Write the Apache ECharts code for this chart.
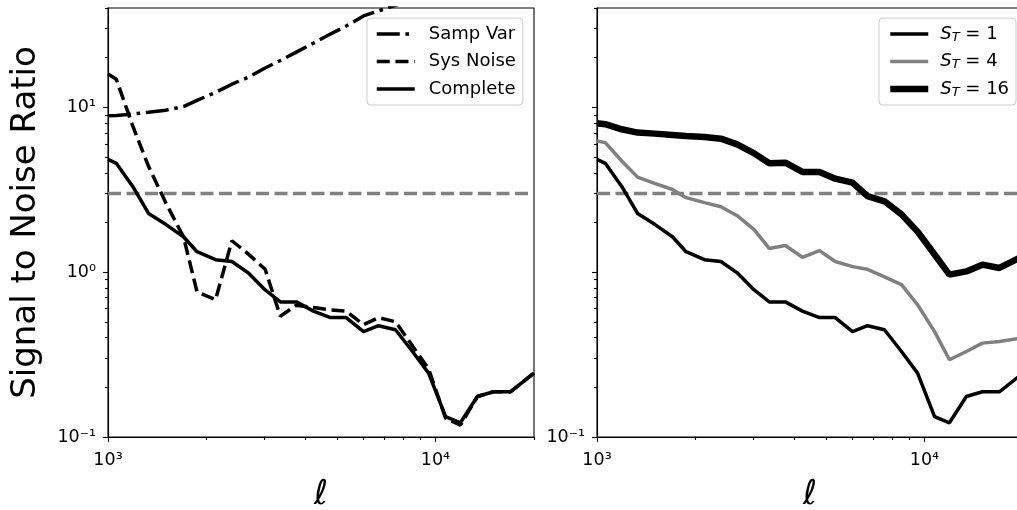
<!DOCTYPE html>
<html>
<head>
<meta charset="utf-8">
<script src="https://cdn.jsdelivr.net/npm/echarts@6/dist/echarts.min.js"></script>
<style>
html, body { margin: 0; padding: 0; background: #fff; overflow: hidden; }
#chart { width: 1017px; height: 510px; }
</style>
</head>
<body>
<div id="chart"></div>
<script>
// multipole bins shared by every curve
const ell = [1000, 1060, 1190, 1330, 1500, 1700, 1870, 2130, 2390, 2680, 3020, 3360, 3760, 4240,
  4780, 5340, 6030, 6700, 7550, 8510, 9530, 10740, 11920, 13430, 15030, 16940, 20000];

// left panel
const sampVar = [8.88, 8.9, 9.1, 9.33, 9.6, 10.1, 11.0, 12.3, 13.8, 15.2, 17.3, 19.2, 21.6, 24.5,
  27.8, 31.1, 35.8, 38.4, 41.5, 45];
const sysNoise = [15.9, 14.8, 7.7, 4.38, 2.64, 1.64, 0.76, 0.68, 1.55, 1.29, 1.04, 0.54, 0.63, 0.61,
  0.59, 0.58, 0.48, 0.53, 0.50, 0.357, 0.259, 0.13, 0.118, 0.176, 0.188, 0.188, 0.244];
const complete = [4.83, 4.57, 3.31, 2.27, 1.95, 1.64, 1.33, 1.19, 1.16, 0.99, 0.78, 0.66, 0.66, 0.58,
  0.53, 0.53, 0.436, 0.473, 0.447, 0.330, 0.244, 0.133, 0.122, 0.176, 0.188, 0.188, 0.244];

// right panel
const snrST1 = [4.83, 4.57, 3.31, 2.27, 1.95, 1.64, 1.33, 1.19, 1.16, 0.99, 0.78, 0.66, 0.66, 0.58,
  0.53, 0.53, 0.436, 0.473, 0.447, 0.330, 0.244, 0.133, 0.122, 0.176, 0.188, 0.188, 0.244];
const snrST4 = [6.24, 6.10, 4.72, 3.77, 3.45, 3.17, 2.83, 2.64, 2.49, 2.20, 1.81, 1.39, 1.45, 1.23,
  1.35, 1.16, 1.08, 1.04, 0.935, 0.84, 0.634, 0.436, 0.294, 0.330, 0.371, 0.380, 0.40];
const snrST16 = [8.0, 7.89, 7.35, 7.02, 6.92, 6.79, 6.69, 6.60, 6.45, 5.96, 5.25, 4.57, 4.61, 4.05,
  4.05, 3.69, 3.49, 2.89, 2.69, 2.24, 1.76, 1.28, 0.966, 1.01, 1.11, 1.06, 1.25];

const threshold = 3;

// axis ranges and ticks
const xRange = [1000, 20000];
const yRange = [0.1, 40];
const xMajor = [1000, 10000];
const xMinor = [2000, 3000, 4000, 5000, 6000, 7000, 8000, 9000, 20000];
const yMajor = [0.1, 1, 10];
const yMinor = [0.2, 0.3, 0.4, 0.5, 0.6, 0.7, 0.8, 0.9, 2, 3, 4, 5, 6, 7, 8, 9, 20, 30, 40];

const leftNames = ['Samp Var', 'Sys Noise', 'Complete'];
const rightNames = ['S_T = 1', 'S_T = 4', 'S_T = 16'];

const font = 'DejaVu Sans';
const supDigits = { '-': '\u207B', '0': '\u2070', '1': '\u00B9', '2': '\u00B2', '3': '\u00B3', '4': '\u2074' };
function powLabel(v) {
  const e = String(Math.round(Math.log10(v)));
  return '10' + e.split('').map(c => supDigits[c]).join('');
}
const pairs = vals => vals.map((v, i) => [ell[i], v]);
const tickLine = { color: '#000', width: 1.1 };

const dashDot = [23, 5.7, 3.6, 5.7];
const dashed = [13, 5.7];

function xAxes(g) {
  return [
    {
      type: 'log', gridIndex: g, position: 'bottom', min: xRange[0], max: xRange[1],
      axisLine: { show: true, onZero: false, lineStyle: tickLine },
      axisTick: { show: true, length: 5, lineStyle: tickLine, customValues: xMajor },
      axisLabel: { customValues: xMajor, formatter: powLabel, fontSize: 17.5, fontFamily: font, color: '#000', margin: 14 },
      splitLine: { show: false },
      name: '\u2113', nameLocation: 'middle', nameGap: 41,
      nameTextStyle: { fontSize: 34, fontStyle: 'italic', fontFamily: font, color: '#000' }
    },
    {
      type: 'log', gridIndex: g, position: 'bottom', min: xRange[0], max: xRange[1],
      axisLine: { show: false },
      axisTick: { show: true, length: 3, lineStyle: tickLine, customValues: xMinor },
      axisLabel: { show: false },
      splitLine: { show: false }
    }
  ];
}

function yAxes(g, labels) {
  const main = {
    type: 'log', gridIndex: g, position: 'left', min: yRange[0], max: yRange[1],
    axisLine: { show: true, onZero: false, lineStyle: tickLine },
    axisTick: { show: true, length: 5, lineStyle: tickLine, customValues: yMajor },
    axisLabel: { customValues: labels, formatter: powLabel, fontSize: 17.5, fontFamily: font, color: '#000', margin: 12 },
    splitLine: { show: false }
  };
  if (g === 0) {
    main.name = 'Signal to Noise Ratio';
    main.nameLocation = 'middle';
    main.nameGap = 65;
    main.nameTextStyle = { fontSize: 34, fontFamily: font, color: '#000' };
  }
  return [main, {
    type: 'log', gridIndex: g, position: 'left', min: yRange[0], max: yRange[1],
    axisLine: { show: false },
    axisTick: { show: true, length: 3, lineStyle: tickLine, customValues: yMinor },
    axisLabel: { show: false },
    splitLine: { show: false }
  }];
}

function line(name, data, axis, color, width, type) {
  return {
    name: name, type: 'line', data: data, xAxisIndex: axis, yAxisIndex: axis,
    symbol: 'none', showSymbol: false, clip: true, color: color,
    lineStyle: { color: color, width: width, type: type }
  };
}

function hline(axis) {
  return line('threshold' + axis, [[xRange[0], threshold], [xRange[1], threshold]], axis, '#808080', 3.5, [13, 5.5]);
}

const legendBase = {
  orient: 'vertical', top: 18, selectedMode: false,
  itemWidth: 38, itemHeight: 14, itemGap: 7.5,
  padding: [6, 7, 6, 8],
  backgroundColor: 'rgba(255,255,255,0.8)',
  borderColor: '#cccccc', borderWidth: 1, borderRadius: 4,
  itemStyle: { color: 'transparent', borderWidth: 0 }
};

const gridBase = {
  top: 8, width: 426, height: 429, show: true, borderColor: '#000', borderWidth: 1.1,
  backgroundColor: 'transparent', containLabel: false, outerBoundsMode: 'none'
};

const chart = echarts.init(document.getElementById('chart'));
const option = {
  animation: false,
  backgroundColor: '#fff',
  grid: [
    Object.assign({ left: 108 }, gridBase),
    Object.assign({ left: 597 }, gridBase)
  ],
  xAxis: xAxes(0).concat(xAxes(1)),
  yAxis: yAxes(0, yMajor).concat(yAxes(1, [0.1])),
  legend: [
    Object.assign({}, legendBase, {
      left: 367,
      data: [
        { name: leftNames[0], lineStyle: { width: 3.5, type: dashDot } },
        { name: leftNames[1], lineStyle: { width: 3.5, type: dashed } },
        { name: leftNames[2], lineStyle: { width: 3.5 } }
      ],
      textStyle: { fontSize: 18, fontFamily: font, color: '#000', lineHeight: 20, padding: [0, 0, 0, 9] }
    }),
    Object.assign({}, legendBase, {
      left: 879,
      data: [
        { name: rightNames[0], lineStyle: { width: 3.5 } },
        { name: rightNames[1], lineStyle: { width: 3.5 } },
        { name: rightNames[2], lineStyle: { width: 6.5 } }
      ],
      formatter: name => '{s|S}{t|T}{e| = ' + name.split('= ')[1] + '}',
      textStyle: {
        fontSize: 18, fontFamily: font, color: '#000', lineHeight: 20, padding: [0, 0, 0, 7],
        rich: {
          s: { fontSize: 18, fontStyle: 'italic', fontFamily: font, color: '#000', lineHeight: 20 },
          t: { fontSize: 13, fontStyle: 'italic', fontFamily: font, color: '#000', lineHeight: 6, verticalAlign: 'bottom' },
          e: { fontSize: 18, fontFamily: font, color: '#000', lineHeight: 20 }
        }
      }
    })
  ],
  series: [
    hline(0),
    line('Samp Var', pairs(sampVar), 0, '#000', 3.5, dashDot),
    line('Sys Noise', pairs(sysNoise), 0, '#000', 3.5, dashed),
    line('Complete', pairs(complete), 0, '#000', 3.5, 'solid'),
    hline(2),
    line('S_T = 1', pairs(snrST1), 2, '#000', 3.5, 'solid'),
    line('S_T = 4', pairs(snrST4), 2, '#808080', 3.5, 'solid'),
    line('S_T = 16', pairs(snrST16), 2, '#000', 6.5, 'solid')
  ]
};
chart.setOption(option);
</script>
</body>
</html>
